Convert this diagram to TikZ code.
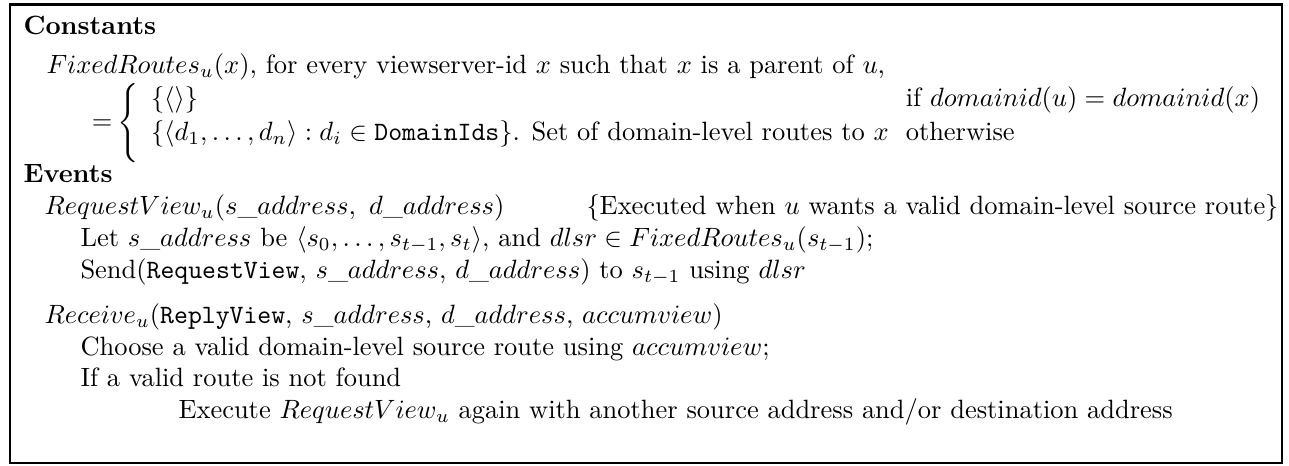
\documentclass[tikz,border=0pt]{standalone}
\usepackage{amsmath,amssymb}
\begin{document}
\begin{tikzpicture}[x=0.378pt, y=-0.378pt,
    txt/.style={anchor=base west, inner sep=0pt},
    head/.style={txt, font=\bfseries}]
  % Frame of the figure
  \useasboundingbox (0,0) rectangle (1289,466);
  \draw[line width=1.1pt] (10,4.5) rectangle (1282,463);

  % Constants part
  \node[head] (const) at (23,35) {Constants};
  \node[txt] (fixed) at (46,74) {$FixedRoutes_u(x)$, for every viewserver-id $x$ such that $x$ is a parent of $u$,};
  \node[anchor=east, inner sep=0pt] (eq) at (113,125) {$=$};
  \node[anchor=west, inner sep=0pt] (brace) at (117,123) {$\left\{\vrule height 11pt depth 11pt width 0pt\right.$};
  \coordinate (colA) at ([xshift=3pt]brace.east);
  \node[txt] (rowA) at (colA |- 0,107) {$\{\langle\rangle\}$};
  \node[txt] (rowB) at (colA |- 0,141) {$\{\langle d_1,\ldots,d_n\rangle : d_i\in\texttt{DomainIds}\}$. Set of domain-level routes to $x$};
  \path (rowB.base east) ++(16,0) coordinate (colB);
  \node[txt] (condA) at (colB |- 0,107) {if $domainid(u) = domainid(x)$};
  \node[txt] (condB) at (colB |- 0,141) {otherwise};

  % Events part
  \node[head] (events) at (23,183) {Events};
  \node[txt] (reqview) at (44,215) {$RequestView_u(s\_address,\ d\_address)$};
  \node[anchor=base east, inner sep=0pt] (reqnote) at (1279,215) {\{Executed when $u$ wants a valid domain-level source route\}};
  \node[txt] (letline) at (80,247) {Let $s\_address$ be $\langle s_0,\ldots,s_{t-1},s_t\rangle$, and $dlsr\in FixedRoutes_u(s_{t-1})$;};
  \node[txt] (sendline) at (80,279) {Send(\texttt{RequestView}, $s\_address$, $d\_address$) to $s_{t-1}$ using $dlsr$};

  \node[txt] (receive) at (44,324) {$Receive_u$(\texttt{ReplyView}, $s\_address$, $d\_address$, $accumview$)};
  \node[txt] (choose) at (80,356) {Choose a valid domain-level source route using $accumview$;};
  \node[txt] (iffound) at (80,387) {If a valid route is not found};
  \node[txt] (execute) at (178,419) {Execute $RequestView_u$ again with another source address and/or destination address};
\end{tikzpicture}
\end{document}
